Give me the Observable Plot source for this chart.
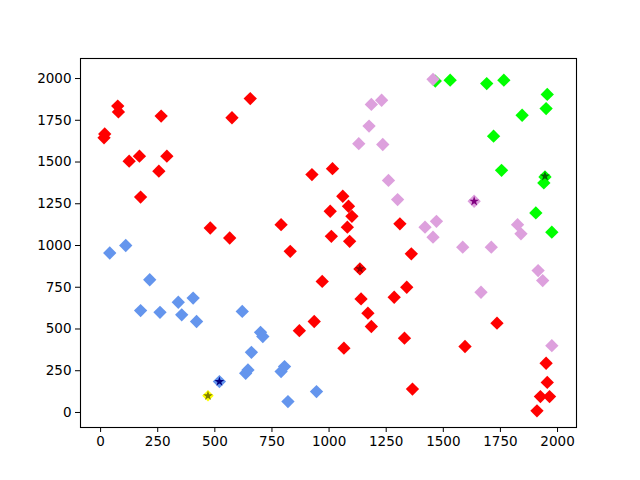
<!DOCTYPE html>
<html>
<head>
<meta charset="utf-8">
<script src="https://cdn.jsdelivr.net/npm/d3@7"></script>
<script src="https://cdn.jsdelivr.net/npm/@observablehq/plot@0.6"></script>
<style>
body { margin: 0; background: #fff; }
svg { font-family: "DejaVu Sans", sans-serif; }
</style>
</head>
<body>
<div id="chart"></div>
<script>
const redX = [15, 18, 75, 78, 125, 170, 175, 255, 265, 290, 480, 565, 575, 655, 790, 830, 870, 925, 935, 970, 1005, 1010, 1015, 1060, 1065, 1080, 1085, 1090, 1100, 1135, 1140, 1170, 1185, 1285, 1310, 1330, 1340, 1360, 1365, 1595, 1735, 1910, 1925, 1950, 1955, 1965];
const redY = [1645, 1668, 1835, 1800, 1505, 1535, 1290, 1445, 1775, 1535, 1105, 1045, 1765, 1880, 1125, 965, 490, 1425, 545, 785, 1205, 1055, 1460, 1295, 385, 1110, 1235, 1025, 1175, 860, 680, 595, 515, 690, 1130, 445, 750, 950, 140, 395, 535, 10, 95, 295, 180, 95];

const blueX = [40, 110, 175, 215, 260, 340, 355, 405, 420, 520, 620, 635, 645, 660, 700, 710, 790, 805, 820, 945];
const blueY = [955, 1000, 610, 795, 600, 660, 585, 685, 545, 185, 605, 235, 255, 360, 480, 455, 245, 275, 65, 125];

const greenX = [1465, 1530, 1690, 1720, 1755, 1765, 1845, 1905, 1940, 1945, 1950, 1955, 1975];
const greenY = [1985, 1990, 1970, 1655, 1450, 1990, 1780, 1195, 1375, 1410, 1820, 1905, 1080];

const plumX = [1130, 1175, 1185, 1230, 1235, 1260, 1300, 1420, 1455, 1455, 1470, 1585, 1635, 1665, 1710, 1825, 1840, 1915, 1935, 1975];
const plumY = [1610, 1715, 1845, 1870, 1605, 1390, 1275, 1110, 1050, 1995, 1145, 990, 1265, 720, 990, 1125, 1070, 850, 790, 400];

const centerX = [470, 520, 1135, 1635, 1945];
const centerY = [100, 185, 860, 1265, 1415];
const centerFill = ["#ffff00", "#6495ed", "#ff0000", "#dda0dd", "#00ff00"];
const centerStar = ["#808000", "#000080", "#8b0000", "#800080", "#006400"];

const ticks = [0, 250, 500, 750, 1000, 1250, 1500, 1750, 2000];

const toRows = (xs, ys) => xs.map((x, i) => ({x, y: ys[i]}));

const diamond = (rows, color) => Plot.dot(rows, {x: "x", y: "y", symbol: "diamond2", r: 6, fill: color, stroke: "none"});

const centerMarks = centerX.flatMap((x, i) => {
  const row = [{x, y: centerY[i]}];
  return [
    Plot.dot(row, {x: "x", y: "y", symbol: "diamond2", r: 5.2, fill: centerFill[i], stroke: "none"}),
    Plot.dot(row, {x: "x", y: "y", symbol: "star", r: 3.1, fill: centerStar[i], stroke: "none"})
  ];
});

const chart = Plot.plot({
  width: 640,
  height: 480,
  marginLeft: 80,
  marginRight: 64,
  marginTop: 58,
  marginBottom: 53,
  style: {fontFamily: "DejaVu Sans, sans-serif", fontSize: "13.5px", color: "#000", background: "#fff"},
  x: {domain: [-88, 2083], label: null},
  y: {domain: [-90, 2120], label: null},
  marks: [
    diamond(toRows(redX, redY), "#ff0000"),
    diamond(toRows(blueX, blueY), "#6495ed"),
    diamond(toRows(greenX, greenY), "#00ff00"),
    diamond(toRows(plumX, plumY), "#dda0dd"),
    ...centerMarks,
    Plot.axisX({ticks, tickSize: 5, tickPadding: 4, tickFormat: d => String(d), fontSize: "13.5px"}),
    Plot.axisY({ticks, tickSize: 5, tickPadding: 4, tickFormat: d => String(d), fontSize: "13.5px"}),
    Plot.frame({stroke: "#000", strokeWidth: 1.1})
  ]
});
document.getElementById("chart").appendChild(chart);
</script>
</body>
</html>
